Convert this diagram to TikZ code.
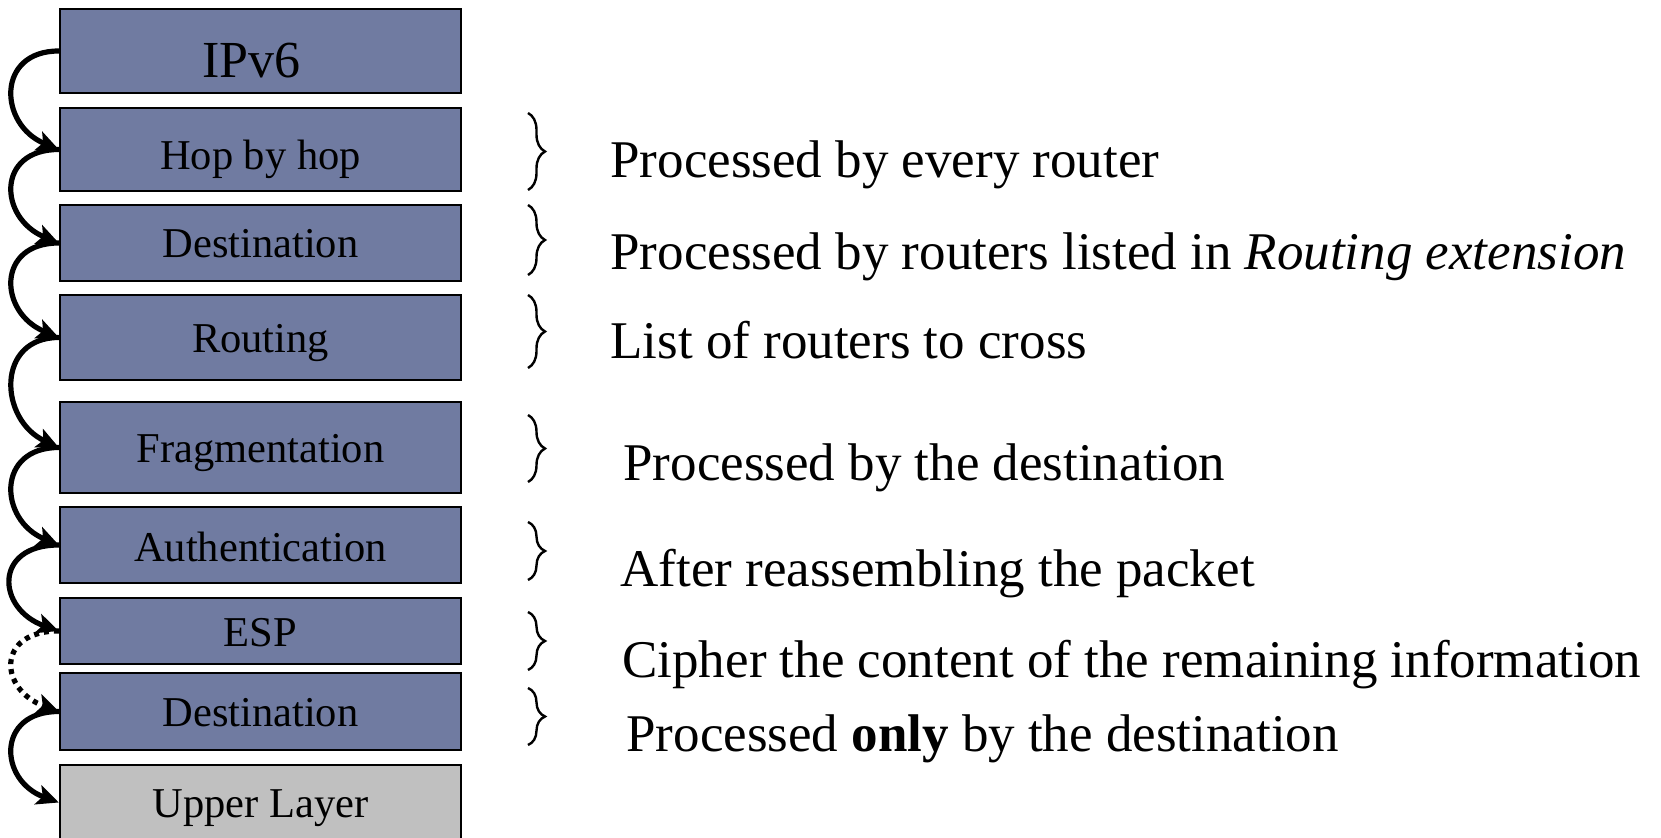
\documentclass[tikz,border=0pt]{standalone}
\usepackage{fontspec}
\setmainfont{Liberation Serif}
\usetikzlibrary{arrows.meta,decorations.pathreplacing}
\definecolor{boxblue}{RGB}{112,123,161}
\definecolor{upgray}{RGB}{192,192,192}
\begin{document}
\begin{tikzpicture}[x=0.5pt,y=-0.5pt,
  hdr/.style={draw=black, line width=1.2pt, fill=boxblue, minimum width=200.5pt,
    inner sep=0pt, font=\fontsize{21.25}{25}\selectfont, text height=15.5pt, text depth=0pt},
  upper/.style={hdr, fill=upgray},
  arr/.style={line width=2.6pt, -{Stealth[length=11pt,width=10pt,inset=2.5pt]}},
  dotarr/.style={arr, dash pattern=on 2.5pt off 2.5pt},
  brc/.style={decorate, decoration={brace, amplitude=8.5pt}, line width=1.2pt},
  rt/.style={anchor=base west, inner sep=0pt, font=\fontsize{26.5}{32}\selectfont}
]
\useasboundingbox (0,0) rectangle (1661,838);

% header boxes
\node[hdr, minimum height=42pt, text height=27pt, font=\fontsize{26}{30}\selectfont] (ipv6) at (260.5,51) {IPv6\hspace*{9pt}};
\node[hdr, minimum height=41.5pt, text height=20.5pt] (hop) at (260.5,149.5) {Hop by hop};
\node[hdr, minimum height=38pt, text height=15pt] (dst1) at (260.5,243) {Destination};
\node[hdr, minimum height=42.5pt] (rout) at (260.5,337.5) {Routing};
\node[hdr, minimum height=45.5pt] (frag) at (260.5,447.5) {Fragmentation};
\node[hdr, minimum height=38pt, text height=17pt] (auth) at (260.5,545) {Authentication};
\node[hdr, minimum height=33pt, text height=16pt] (esp) at (260.5,631) {ESP};
\node[hdr, minimum height=38.5pt] (dst2) at (260.5,711.5) {Destination};
\node[upper, minimum height=37.5pt] (up) at (260.5,802.5) {Upper Layer};

% chain arrows
\draw[arr] (ipv6.west) .. controls +(-63,0) and +(-60,-25) .. (hop.west);
\draw[arr] (hop.west) .. controls +(-63,0) and +(-60,-25) .. (dst1.west);
\draw[arr] (dst1.west) .. controls +(-63,0) and +(-60,-25) .. (rout.west);
\draw[arr] (rout.west) .. controls +(-63,0) and +(-60,-28) .. (frag.west);
\draw[arr] (frag.west) .. controls +(-63,0) and +(-60,-25) .. (auth.west);
\draw[arr] (auth.west) .. controls +(-66,0) and +(-62,-22) .. (esp.west);
\draw[dotarr] (esp.west) .. controls +(-63,0) and +(-60,-22) .. (dst2.west);
\draw[arr] (dst2.west) .. controls +(-63,0) and +(-60,-22) .. (up.west);

% braces
\draw[brc] (528,113) -- (528,190);
\draw[brc] (528,205) -- (528,275);
\draw[brc] (528,295) -- (528,368);
\draw[brc] (528,415) -- (528,482);
\draw[brc] (528,522) -- (528,580);
\draw[brc] (528,612) -- (528,670);
\draw[brc] (528,688) -- (528,745);

% right texts
\node[rt] (t1) at (610,178) {Processed by every router};
\node[rt] (t2) at (610,270) {Processed by routers listed in \textit{Routing extension}};
\node[rt] (t3) at (610,359) {List of routers to cross};
\node[rt] (t4) at (623,481) {Processed by the destination};
\node[rt] (t5) at (620,587) {After reassembling the packet};
\node[rt] (t6) at (622,678) {Cipher the content of the remaining information};
\node[rt] (t7) at (626,752) {Processed \textbf{only} by the destination};
\end{tikzpicture}
\end{document}
